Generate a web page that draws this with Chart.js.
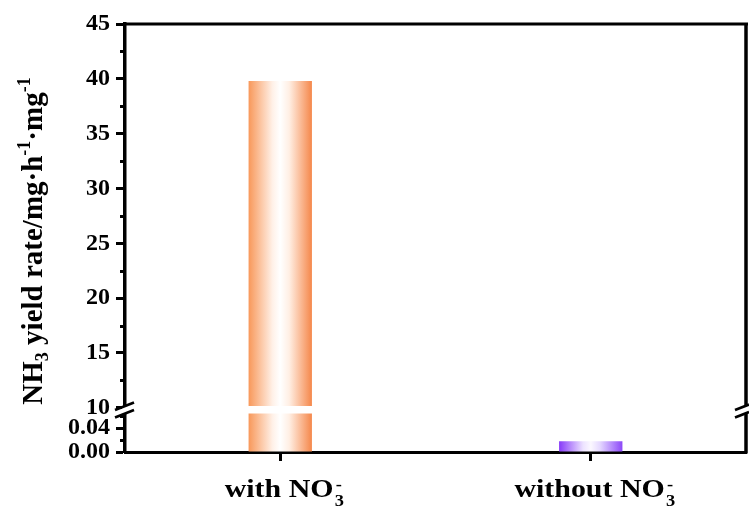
<!DOCTYPE html>
<html>
<head>
<meta charset="utf-8">
<script src="https://cdn.jsdelivr.net/npm/chart.js@4.4.0/dist/chart.umd.min.js"></script>
<style>
  html, body { margin: 0; padding: 0; background: #fff; }
  canvas { display: block; }
</style>
</head>
<body>
<canvas id="c" width="749" height="508"></canvas>
<script>
// ---- data ----
const categories = ['with NO3-', 'without NO3-'];
const categoryText = ['with NO', 'without NO'];      // followed by a stacked subscript 3 / superscript -
const yieldRate = [39.8, 0.018];                      // NH3 yield rate, mg h-1 mg-1
const upperRange = [9.8, 45];                         // upper segment of the broken axis
const lowerRange = [0, 0.07];                         // lower segment of the broken axis
const upperTickStep = 5;
const lowerTickStep = 0.04;
const upperMinorTicks = [12.5, 17.5, 22.5, 27.5, 32.5, 37.5, 42.5];
const lowerMinorTicks = [0.02, 0.06];

// ---- style ----
const SERIF = "'Liberation Serif', 'Times New Roman', serif";
const BAR_PCT = 0.204;
const barStops = [
  ['#F8985A', '#FFF1E8', '#FFFFFF', '#FFEFE4', '#F5874A'],
  ['#873AF8', '#EDE3FF', '#FBF8FF', '#E6DAFF', '#8C48F8']
];

// each bar is split at the axis break: the lower piece is capped at the top of the
// lower segment, the upper piece floats from the bottom of the upper segment
const lowerPieces = yieldRate.map(v => Math.min(v, lowerRange[1]));
const upperPieces = yieldRate.map(v => (v > upperRange[0] ? [upperRange[0], v] : null));

function barFill(ctx) {
  const chart = ctx.chart;
  const xs = chart.scales.x;
  if (!chart.chartArea || !xs) return barStops[ctx.dataIndex][0];
  const cx = xs.getPixelForValue(ctx.dataIndex);
  const w = (xs.width / categories.length) * BAR_PCT;
  const g = chart.ctx.createLinearGradient(cx - w / 2, 0, cx + w / 2, 0);
  const s = barStops[ctx.dataIndex];
  g.addColorStop(0, s[0]);
  g.addColorStop(0.38, s[1]);
  g.addColorStop(0.5, s[2]);
  g.addColorStop(0.64, s[3]);
  g.addColorStop(1, s[4]);
  return g;
}

// draws runs of text; each run: {t, size, dy}
function runWidth(ctx, runs) {
  let w = 0;
  for (const r of runs) {
    ctx.font = `bold ${r.size}px ${SERIF}`;
    w += ctx.measureText(r.t).width;
  }
  return w;
}
function drawRuns(ctx, runs, x, y) {
  for (const r of runs) {
    ctx.font = `bold ${r.size}px ${SERIF}`;
    ctx.fillText(r.t, x, y + (r.dy || 0));
    x += ctx.measureText(r.t).width;
  }
  return x;
}

const framePlugin = {
  id: 'frame',
  afterDraw(chart) {
    const { ctx, chartArea: a, scales } = chart;
    const hi = scales.yHigh, lo = scales.yLow, xs = scales.x;
    ctx.save();
    ctx.strokeStyle = '#000';
    ctx.fillStyle = '#000';

    // top and right border
    ctx.lineWidth = 3;
    ctx.beginPath();
    ctx.moveTo(a.left - 1.5, a.top);
    ctx.lineTo(a.right + 2, a.top);
    ctx.stroke();
    ctx.lineWidth = 3.5;
    ctx.beginPath();
    ctx.moveTo(a.right, a.top);
    ctx.lineTo(a.right, a.bottom + 1.5);
    ctx.stroke();

    // minor ticks
    ctx.lineWidth = 3;
    const minor = (scale, vals) => {
      for (const v of vals) {
        const y = Math.round(scale.getPixelForValue(v)) + 0.5;
        ctx.beginPath();
        ctx.moveTo(a.left - 5, y);
        ctx.lineTo(a.left, y);
        ctx.stroke();
      }
    };
    minor(hi, upperMinorTicks);
    minor(lo, lowerMinorTicks);

    // axis break: white gap through bars and side axes, then slash marks
    const yb = hi.bottom;
    const gTop = yb - 4, gBot = yb + 3.5;
    ctx.fillStyle = '#fff';
    ctx.fillRect(a.left - 3, gTop, a.right - a.left + 6, gBot - gTop);
    ctx.strokeStyle = '#000';
    ctx.lineWidth = 2.6;
    for (const yy of [gTop, gBot]) {
      ctx.beginPath();
      ctx.moveTo(a.left - 10, yy + 4);
      ctx.lineTo(a.left + 9, yy - 3.5);
      ctx.stroke();
      ctx.beginPath();
      ctx.moveTo(a.right - 11, yy + 4);
      ctx.lineTo(a.right + 3, yy - 1.5);
      ctx.stroke();
    }

    // category labels with stacked sub/superscript
    ctx.fillStyle = '#000';
    ctx.textAlign = 'left';
    ctx.textBaseline = 'alphabetic';
    const SX = 1.15;
    categoryText.forEach((txt, i) => {
      const cx = xs.getPixelForValue(i);
      ctx.font = `bold 26px ${SERIF}`;
      const mw = ctx.measureText(txt).width;
      ctx.font = `bold 16px ${SERIF}`;
      const sw = ctx.measureText('3').width;
      const total = mw + sw + 1;
      ctx.save();
      ctx.translate(cx + 4, 497);
      ctx.scale(SX, 1);
      let x = -total / 2;
      ctx.font = `bold 26px ${SERIF}`;
      ctx.fillText(txt, x, 0);
      x += mw + 1;
      ctx.font = `bold 16px ${SERIF}`;
      ctx.fillText('3', x, 9);
      ctx.fillText('-', x + 1, -7);
      ctx.restore();
    });

    // y axis title
    const runs = [
      { t: 'NH', size: 29 },
      { t: '3', size: 18, dy: 6 },
      { t: ' yield rate/mg\u00B7h', size: 29 },
      { t: '-1', size: 18, dy: -12 },
      { t: '\u00B7mg', size: 29 },
      { t: '-1', size: 18, dy: -12 }
    ];
    const tw = runWidth(ctx, runs);
    ctx.save();
    ctx.translate(42, 241);
    ctx.rotate(-Math.PI / 2);
    drawRuns(ctx, runs, -tw / 2, 0);
    ctx.restore();

    ctx.restore();
  }
};

const tickFont = { family: SERIF, size: 24, weight: 'bold', lineHeight: 1 };
const axisGrid = { drawOnChartArea: false, drawTicks: true, tickLength: 9, tickWidth: 3, tickColor: '#000' };

new Chart(document.getElementById('c'), {
  type: 'bar',
  data: {
    labels: categories,
    datasets: [
      { data: upperPieces, yAxisID: 'yHigh', grouped: false, backgroundColor: barFill, borderWidth: 0 },
      { data: lowerPieces, yAxisID: 'yLow', grouped: false, backgroundColor: barFill, borderWidth: 0 }
    ]
  },
  options: {
    responsive: false,
    animation: false,
    devicePixelRatio: 1,
    layout: { padding: { top: 24, right: 3, left: 0, bottom: 0 } },
    plugins: { legend: { display: false }, tooltip: { enabled: false } },
    datasets: { bar: { barPercentage: BAR_PCT, categoryPercentage: 1 } },
    scales: {
      x: {
        offset: true,
        grid: { ...axisGrid, offset: false },
        border: { display: true, width: 3, color: '#000' },
        ticks: { display: false },
        afterFit: s => { s.height = 56; }
      },
      // lower segment is listed first so that it sits at the bottom of the stack
      yLow: {
        type: 'linear',
        position: 'left',
        stack: 'broken',
        stackWeight: 42,
        min: lowerRange[0],
        max: lowerRange[1],
        grid: axisGrid,
        border: { display: true, width: 3.5, color: '#000' },
        ticks: {
          stepSize: lowerTickStep,
          includeBounds: false,
          autoSkip: false,
          font: tickFont,
          color: '#000',
          padding: 6,
          callback: v => v.toFixed(2)
        },
        afterFit: s => { s.width = 125; }
      },
      yHigh: {
        type: 'linear',
        position: 'left',
        stack: 'broken',
        stackWeight: 386,
        min: upperRange[0],
        max: upperRange[1],
        grid: axisGrid,
        border: { display: true, width: 3.5, color: '#000' },
        ticks: {
          stepSize: upperTickStep,
          includeBounds: false,
          autoSkip: false,
          font: tickFont,
          color: '#000',
          padding: 6,
          callback: v => String(v)
        },
        afterFit: s => { s.width = 125; }
      }
    }
  },
  plugins: [framePlugin]
});
</script>
</body>
</html>
